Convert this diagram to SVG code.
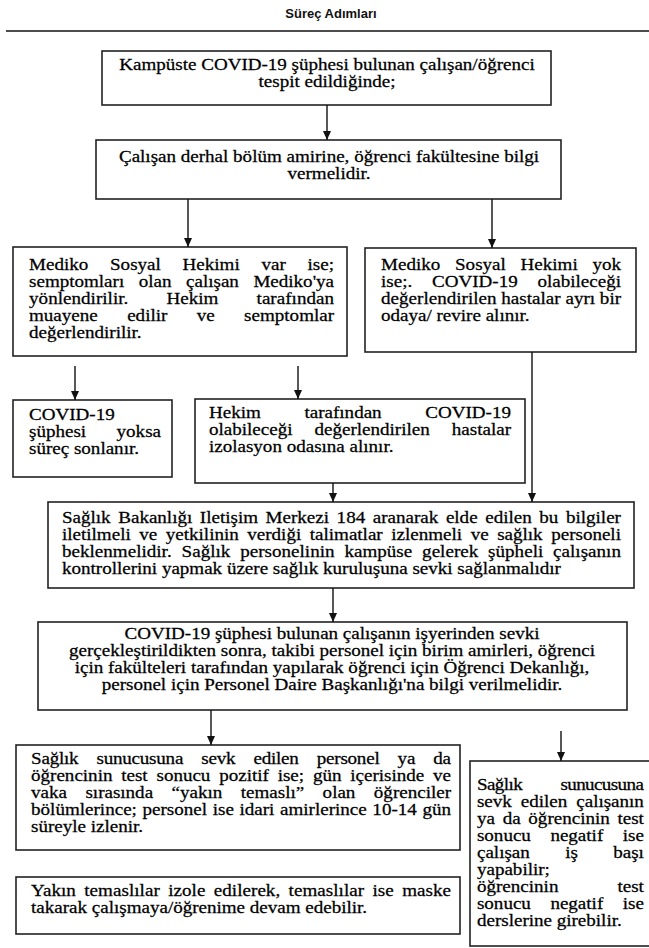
<svg xmlns="http://www.w3.org/2000/svg" width="649" height="948" viewBox="0 0 649 948">
<style>
.box{fill:#fff;stroke:#222;stroke-width:1.6}
.t{font-family:"Liberation Serif","Times New Roman",serif;font-size:16px;fill:#000;stroke:#000;stroke-width:0.25}
.c{text-anchor:middle}
.title{font-family:"Liberation Sans",Arial,sans-serif;font-size:13px;font-weight:bold;fill:#111;text-anchor:middle}
.conn line{stroke:#111;stroke-width:1.4;marker-end:url(#ah)}
</style>
<defs>
<marker id="ah" markerWidth="9" markerHeight="8" refX="9" refY="4" orient="auto" markerUnits="userSpaceOnUse">
<path d="M0,0 L9,4 L0,8 z" fill="#111"/>
</marker>
</defs>
<rect width="649" height="948" fill="#fff"/>
<g id="header">
<text class="title" x="331" y="18">Süreç Adımları</text>
<line x1="6" y1="31" x2="649" y2="31" stroke="#111" stroke-width="1.5"/>
</g>
<g id="n1">
<rect class="box" x="102" y="51" width="449" height="54"/>
<g transform="scale(1.19 1)">
<text class="t c" x="274.8" y="70">Kampüste COVID-19 şüphesi bulunan çalışan/öğrenci</text>
<text class="t c" x="274.8" y="87">tespit edildiğinde;</text>
</g>
</g>
<g id="n2">
<rect class="box" x="96" y="140" width="465" height="59"/>
<g transform="scale(1.19 1)">
<text class="t c" x="276.5" y="162">Çalışan derhal bölüm amirine, öğrenci fakültesine bilgi</text>
<text class="t c" x="276.5" y="179">vermelidir.</text>
</g>
</g>
<g id="n3">
<rect class="box" x="13" y="247" width="334" height="109"/>
<g transform="scale(1.19 1)">
<text class="t" x="24.4" y="270" word-spacing="14.3" textLength="256.3" lengthAdjust="spacing">Mediko Sosyal Hekimi var ise;</text>
<text class="t" x="24.4" y="287" word-spacing="8.2" textLength="256.3" lengthAdjust="spacing">semptomları olan çalışan Mediko'ya</text>
<text class="t" x="24.4" y="304" word-spacing="28" textLength="256.3" lengthAdjust="spacing">yönlendirilir. Hekim tarafından</text>
<text class="t" x="24.4" y="321" word-spacing="20.7" textLength="256.3" lengthAdjust="spacing">muayene edilir ve semptomlar</text>
<text class="t" x="24.4" y="338">değerlendirilir.</text>
</g>
</g>
<g id="n4">
<rect class="box" x="365" y="248" width="271" height="104"/>
<g transform="scale(1.19 1)">
<text class="t" x="320.2" y="270" word-spacing="8.4" textLength="201.7" lengthAdjust="spacing">Mediko Sosyal Hekimi yok</text>
<text class="t" x="320.2" y="287" word-spacing="12.6" textLength="201.7" lengthAdjust="spacing">ise;. COVID-19 olabileceği</text>
<text class="t" x="320.2" y="304" textLength="201.7" lengthAdjust="spacing">değerlendirilen hastalar ayrı bir</text>
<text class="t" x="320.2" y="321">odaya/ revire alınır.</text>
</g>
</g>
<g id="n5">
<rect class="box" x="13" y="400" width="159" height="77"/>
<g transform="scale(1.19 1)">
<text class="t" x="24.4" y="420">COVID-19</text>
<text class="t" x="24.4" y="437" word-spacing="21.6" textLength="110.9" lengthAdjust="spacing">şüphesi yoksa</text>
<text class="t" x="24.4" y="454">süreç sonlanır.</text>
</g>
</g>
<g id="n6">
<rect class="box" x="195" y="399" width="330" height="84"/>
<g transform="scale(1.19 1)">
<text class="t" x="175.6" y="418" word-spacing="32.7" textLength="253.8" lengthAdjust="spacing">Hekim tarafından COVID-19</text>
<text class="t" x="175.6" y="435" word-spacing="14.5" textLength="253.8" lengthAdjust="spacing">olabileceği değerlendirilen hastalar</text>
<text class="t" x="175.6" y="452">izolasyon odasına alınır.</text>
</g>
</g>
<g id="n7">
<rect class="box" x="48" y="502" width="586" height="86"/>
<g transform="scale(1.19 1)">
<text class="t" x="52.1" y="523" word-spacing="2.4" textLength="469.7" lengthAdjust="spacing">Sağlık Bakanlığı Iletişim Merkezi 184 aranarak elde edilen bu bilgiler</text>
<text class="t" x="52.1" y="540" word-spacing="3.2" textLength="469.7" lengthAdjust="spacing">iletilmeli ve yetkilinin verdiği talimatlar izlenmeli ve sağlık personeli</text>
<text class="t" x="52.1" y="557" word-spacing="4.3" textLength="469.7" lengthAdjust="spacing">beklenmelidir. Sağlık personelinin kampüse gelerek şüpheli çalışanın</text>
<text class="t" x="52.1" y="574">kontrollerini yapmak üzere sağlık kuruluşuna sevki sağlanmalıdır</text>
</g>
</g>
<g id="n8">
<rect class="box" x="38" y="622" width="589" height="88"/>
<g transform="scale(1.19 1)">
<text class="t c" x="279" y="639">COVID-19 şüphesi bulunan çalışanın işyerinden sevki</text>
<text class="t c" x="279" y="656">gerçekleştirildikten sonra, takibi personel için birim amirleri, öğrenci</text>
<text class="t c" x="279" y="673">için fakülteleri tarafından yapılarak öğrenci için Öğrenci Dekanlığı,</text>
<text class="t c" x="279" y="690">personel için Personel Daire Başkanlığı'na bilgi verilmelidir.</text>
</g>
</g>
<g id="n9">
<rect class="box" x="16" y="745" width="444" height="105"/>
<g transform="scale(1.19 1)">
<text class="t" x="26.1" y="764" word-spacing="11.4" textLength="352.9" lengthAdjust="spacing">Sağlık sunucusuna sevk edilen personel ya da</text>
<text class="t" x="26.1" y="781" word-spacing="3.4" textLength="352.9" lengthAdjust="spacing">öğrencinin test sonucu pozitif ise; gün içerisinde ve</text>
<text class="t" x="26.1" y="798" word-spacing="11.5" textLength="352.9" lengthAdjust="spacing">vaka sırasında “yakın temaslı” olan öğrenciler</text>
<text class="t" x="26.1" y="815" word-spacing="0.7" textLength="352.9" lengthAdjust="spacing">bölümlerince; personel ise idari amirlerince 10-14 gün</text>
<text class="t" x="26.1" y="832">süreyle izlenir.</text>
</g>
</g>
<g id="n10">
<rect class="box" x="16" y="877" width="444" height="57"/>
<g transform="scale(1.19 1)">
<text class="t" x="26.1" y="896" word-spacing="3" textLength="352.9" lengthAdjust="spacing">Yakın temaslılar izole edilerek, temaslılar ise maske</text>
<text class="t" x="26.1" y="913">takarak çalışmaya/öğrenime devam edebilir.</text>
</g>
</g>
<g id="n11">
<rect class="box" x="470" y="761" width="182" height="185"/>
<g transform="scale(1.19 1)">
<text class="t" x="400.8" y="790" word-spacing="28.7" textLength="140.3" lengthAdjust="spacing">Sağlık sunucusuna</text>
<text class="t" x="400.8" y="807" word-spacing="3.5" textLength="140.3" lengthAdjust="spacing">sevk edilen çalışanın</text>
<text class="t" x="400.8" y="824" word-spacing="2.5" textLength="140.3" lengthAdjust="spacing">ya da öğrencinin test</text>
<text class="t" x="400.8" y="841" word-spacing="12.4" textLength="140.3" lengthAdjust="spacing">sonucu negatif ise</text>
<text class="t" x="400.8" y="858" word-spacing="25.7" textLength="140.3" lengthAdjust="spacing">çalışan iş başı</text>
<text class="t" x="400.8" y="875">yapabilir;</text>
<text class="t" x="400.8" y="892" word-spacing="45.6" textLength="140.3" lengthAdjust="spacing">öğrencinin test</text>
<text class="t" x="400.8" y="909" word-spacing="12.4" textLength="140.3" lengthAdjust="spacing">sonucu negatif ise</text>
<text class="t" x="400.8" y="926">derslerine girebilir.</text>
</g>
</g>
<g id="connectors" class="conn">
<line x1="327" y1="105" x2="327" y2="140"/>
<line x1="188" y1="199" x2="188" y2="247"/>
<line x1="492" y1="199" x2="492" y2="248"/>
<line x1="75" y1="366" x2="75" y2="400"/>
<line x1="298" y1="366" x2="298" y2="399"/>
<line x1="532" y1="352" x2="532" y2="502"/>
<line x1="333" y1="483" x2="333" y2="502"/>
<line x1="333" y1="588" x2="333" y2="622"/>
<line x1="211" y1="710" x2="211" y2="745"/>
<line x1="561" y1="731" x2="561" y2="761"/>
</g>
</svg>
